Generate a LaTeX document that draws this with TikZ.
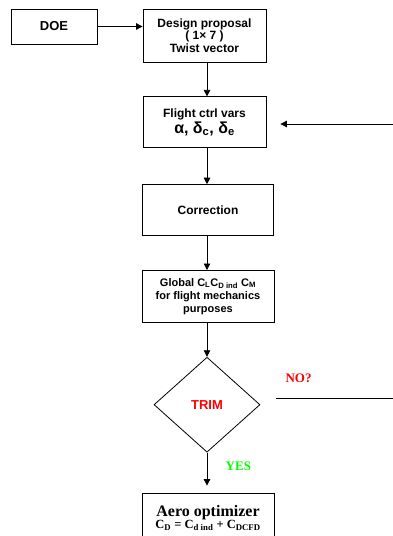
\documentclass[tikz,border=0pt]{standalone}
\usepackage{fontspec}
\setmainfont{Liberation Sans}
\newfontfamily\timesfont{Liberation Serif}
\usepackage{tikz}
\usetikzlibrary{shapes.geometric, arrows.meta, positioning}
\tikzstyle{arrow} = [line width=0.8pt,->,>={Triangle[length=6.5pt,width=6.5pt]}]
\tikzstyle{block} = [rectangle, draw, line width=0.8pt, align=center, text centered, inner sep=2pt, font=\bfseries\fontsize{12}{12.5}\selectfont]
\tikzstyle{answer} = [font=\timesfont\bfseries\fontsize{13}{15}\selectfont]

\begin{document}
\begin{tikzpicture}[x=1pt, y=-1pt]
            \clip (0,0) rectangle (393,536);
            \node (doe) [block, minimum width=86pt, minimum height=35pt, font=\bfseries\fontsize{13}{15}\selectfont] at (54,26.5) {DOE};
            \node (design) [block, minimum width=123pt, minimum height=53pt] at (204.5,35.5) {Design proposal\\( 1× 7 )\\Twist vector};
            \node (ctrl) [block, below=34pt of design, minimum width=123pt, minimum height=51pt] {Flight ctrl vars\\[1pt]{\fontsize{16}{17}\selectfont α, δ\textsubscript{c}, δ\textsubscript{e}}};
            \node (corr) [block, below=36pt of ctrl, xshift=3.5pt, minimum width=131pt, minimum height=51pt] {Correction};
            \node (glob) [block, below=34pt of corr, minimum width=132pt, minimum height=52pt, font=\bfseries\fontsize{11}{13}\selectfont] {Global C\textsubscript{L}C\textsubscript{D ind} C\textsubscript{M}\\for flight mechanics\\purposes};
            \node (trim) [diamond, draw, line width=0.8pt, aspect=1.1, below=34pt of glob, xshift=-1pt, minimum width=106pt, minimum height=95pt, inner sep=0pt, text=red, font=\bfseries\fontsize{13}{15}\selectfont] {TRIM};
            \node (aero) [block, below=40pt of trim, xshift=1pt, minimum width=132pt, minimum height=50pt, font=\timesfont\bfseries] {{\fontsize{16}{18}\selectfont Aero optimizer}\\{\fontsize{12.5}{14}\selectfont C\textsubscript{D} = C\textsubscript{d ind} + C\textsubscript{DCFD}}};
            
            \coordinate (fbstart) at (393,124);
            \coordinate (noend) at (393,398.5);
            
            \draw [arrow] (doe.east) -- (doe.east -| design.west);
            \draw [arrow] (design.south -| trim) -- (ctrl.north -| trim);
            \draw [arrow] (ctrl.south -| trim) -- (corr.north -| trim);
            \draw [arrow] (corr.south -| trim) -- (glob.north -| trim);
            \draw [arrow] (glob.south -| trim) -- (trim.north);
            \draw [arrow] (trim.south) -- ([yshift=7pt]trim.south |- aero.north) node[pos=0.4, right=15pt, answer, text=green] {YES};
            
            \draw [arrow] (fbstart) -- ([xshift=14pt]ctrl.east |- fbstart);
            \draw [line width=0.8pt] ([xshift=16pt]trim.east |- noend) -- (noend) node[pos=0.19, above=12pt, answer, text=red] {NO?};
        \end{tikzpicture}
\end{document}
